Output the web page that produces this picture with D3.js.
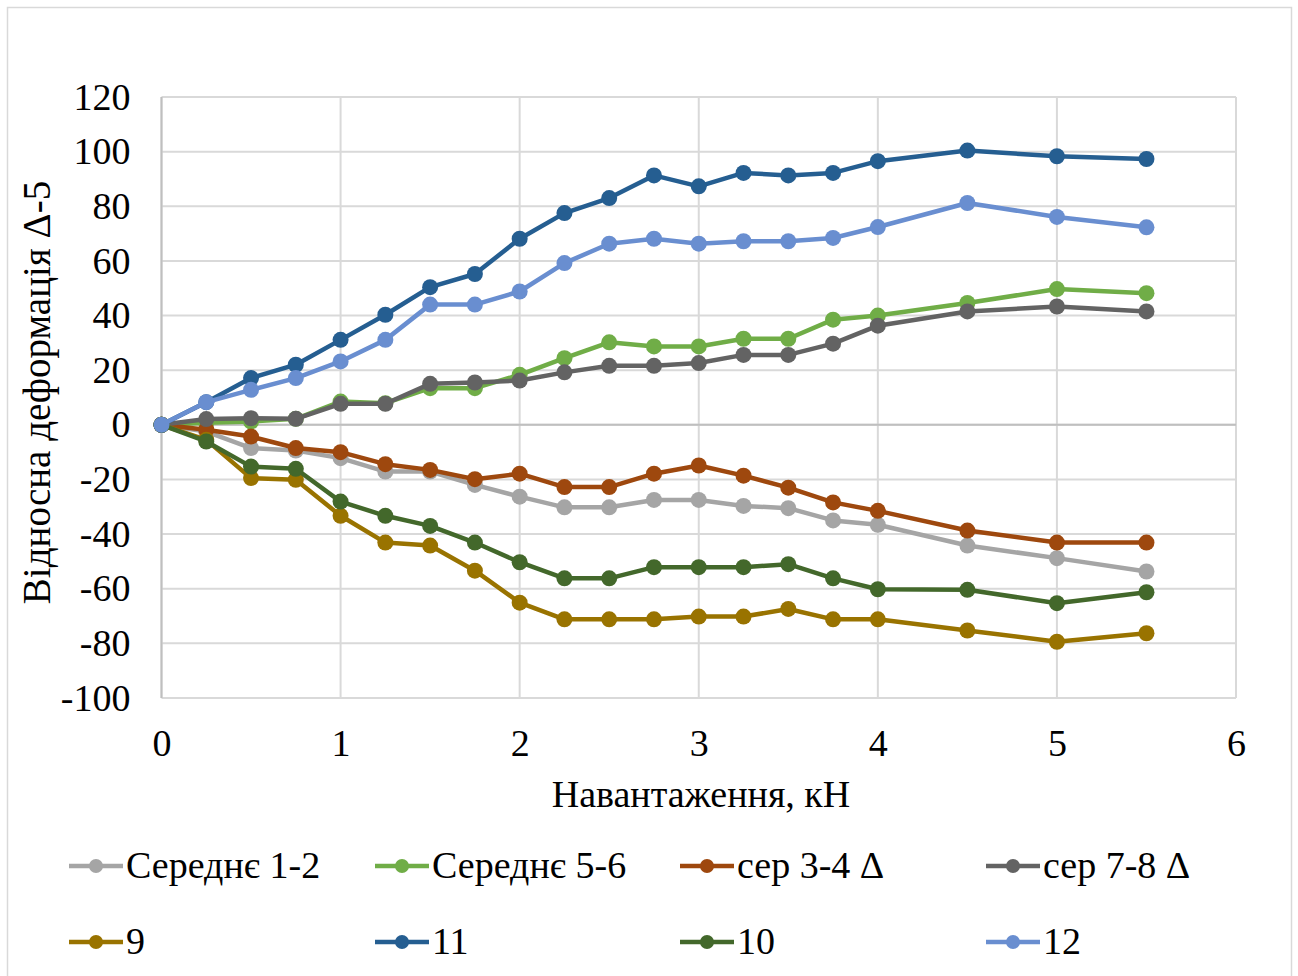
<!DOCTYPE html>
<html><head><meta charset="utf-8">
<script src="https://cdn.jsdelivr.net/npm/d3@7"></script>
<style>body{margin:0;background:#fff}svg{display:block}text{font-family:"Liberation Serif","Times New Roman",serif;fill:#000}</style>
</head><body><svg id="c" width="1298" height="976"></svg>
<script>
const loads = [0,0.25,0.5,0.75,1,1.25,1.5,1.75,2,2.25,2.5,2.75,3,3.25,3.5,3.75,4,4.5,5,5.5];
const seriesNames = ["Середнє 1-2","Середнє 5-6","сер 3-4 Δ","сер 7-8 Δ","9","11","10","12"];
const seriesColors = ["#A5A5A5","#70AD47","#9E480E","#636363","#997300","#255E91","#43682B","#698ED0"];
const avg12 = [0,-2.5,-8.5,-9.4,-12.2,-17.1,-17.1,-22,-26.3,-30.2,-30.2,-27.5,-27.5,-29.7,-30.5,-35,-36.6,-44.2,-48.8,-53.7];
const avg56 = [0,0.8,1.2,2.2,8.5,7.9,13.4,13.4,18.3,24.4,30.2,28.7,28.7,31.5,31.5,38.5,40,44.6,49.7,48.2];
const avg34 = [0,-1.8,-4.3,-8.5,-10,-14.4,-16.5,-19.9,-17.9,-22.8,-22.8,-17.9,-14.9,-18.6,-23,-28.4,-31.5,-38.7,-43.1,-43.1];
const avg78 = [0,2.1,2.4,2.2,7.7,7.7,15,15.5,16.2,19.2,21.6,21.6,22.6,25.6,25.6,29.7,36.3,41.5,43.3,41.5];
const s9 = [0,-5.5,-19.5,-20.1,-33.3,-43.1,-44.2,-53.4,-65.1,-71.2,-71.2,-71.2,-70.2,-70.2,-67.4,-71.2,-71.2,-75.3,-79.4,-76.3];
const s11 = [0,8.3,17.1,22,31.1,40.3,50.4,55.2,68.1,77.5,83,91.3,87.3,92.2,91.3,92.2,96.5,100.4,98.3,97.3];
const s10 = [0,-6.1,-15.3,-16.1,-28.1,-33.3,-37,-43.1,-50.3,-56.2,-56.2,-52.1,-52.1,-52.1,-51,-56.2,-60.2,-60.4,-65.3,-61.3];
const s12 = [0,8.3,12.8,17.1,23.2,31.1,44,44,48.8,59.2,66.3,68.1,66.3,67.2,67.2,68.4,72.4,81.2,76.1,72.3];
const seriesValues = [avg12,avg56,avg34,avg78,s9,s11,s10,s12];
const xTicks = [0,1,2,3,4,5,6];
const yTicks = [-100,-80,-60,-40,-20,0,20,40,60,80,100,120];
const xTitle = "Навантаження, кН";
const yTitle = "Відносна деформація  Δ-5";

const svg = d3.select("#c");
const L=161.5, R=1236, T=97, B=698;
const x = d3.scaleLinear().domain([0,6]).range([L,R]);
const y = d3.scaleLinear().domain([-100,120]).range([B,T]);
const FS = "38px";

svg.append("rect").attr("x",7.5).attr("y",7.5).attr("width",1284).attr("height",980)
  .attr("fill","#fff").attr("stroke","#D9D9D9").attr("stroke-width",1.5);

const g = svg.append("g");
g.selectAll("line.h").data(yTicks).join("line")
  .attr("x1",L).attr("x2",R).attr("y1",d=>y(d)).attr("y2",d=>y(d))
  .attr("stroke","#D9D9D9").attr("stroke-width",2);
g.selectAll("line.v").data(xTicks).join("line")
  .attr("y1",T).attr("y2",B).attr("x1",d=>x(d)).attr("x2",d=>x(d))
  .attr("stroke","#D9D9D9").attr("stroke-width",2);
g.append("line").attr("x1",L).attr("x2",L).attr("y1",T).attr("y2",B).attr("stroke","#BFBFBF").attr("stroke-width",2);
g.append("line").attr("x1",L).attr("x2",R).attr("y1",y(0)).attr("y2",y(0)).attr("stroke","#BFBFBF").attr("stroke-width",2);

const yAxis = svg.append("g").attr("transform",`translate(${L},0)`)
  .call(d3.axisLeft(y).tickValues(yTicks).tickSize(0).tickPadding(31).tickFormat(d=>String(d)));
yAxis.select(".domain").remove();
yAxis.selectAll("text").style("font-size",FS).style("font-family","Liberation Serif").attr("fill","#000");
const xAxis = svg.append("g").attr("transform",`translate(0,${B})`)
  .call(d3.axisBottom(x).tickValues(xTicks).tickSize(0).tickPadding(31).tickFormat(d=>String(d)));
xAxis.select(".domain").remove();
xAxis.selectAll("text").style("font-size",FS).style("font-family","Liberation Serif").attr("fill","#000");

svg.append("text").attr("x",701).attr("y",807).attr("text-anchor","middle").style("font-size",FS).text(xTitle);
svg.append("text").attr("transform",`translate(50,${(T+B)/2-5}) rotate(-90)`).attr("text-anchor","middle").style("font-size","39px").text(yTitle);

const line = d3.line().x((d,i)=>x(loads[i])).y(d=>y(d));
seriesValues.forEach((vals,k)=>{
  const sg = svg.append("g");
  sg.append("path").datum(vals).attr("d",line).attr("fill","none")
    .attr("stroke",seriesColors[k]).attr("stroke-width",4.5).attr("stroke-linejoin","round");
  sg.selectAll("circle").data(vals).join("circle")
    .attr("cx",(d,i)=>x(loads[i])).attr("cy",d=>y(d)).attr("r",8).attr("fill",seriesColors[k]);
});

const legX = [69,375,680,986], legY = [866,942];
seriesNames.forEach((n,k)=>{
  const lx = legX[k%4], ly = legY[Math.floor(k/4)];
  const lg = svg.append("g");
  lg.append("line").attr("x1",lx).attr("x2",lx+54).attr("y1",ly).attr("y2",ly)
    .attr("stroke",seriesColors[k]).attr("stroke-width",4.5);
  lg.append("circle").attr("cx",lx+27).attr("cy",ly).attr("r",7).attr("fill",seriesColors[k]);
  lg.append("text").attr("x",lx+57).attr("y",ly+12).style("font-size",FS).text(n);
});
</script></body></html>
